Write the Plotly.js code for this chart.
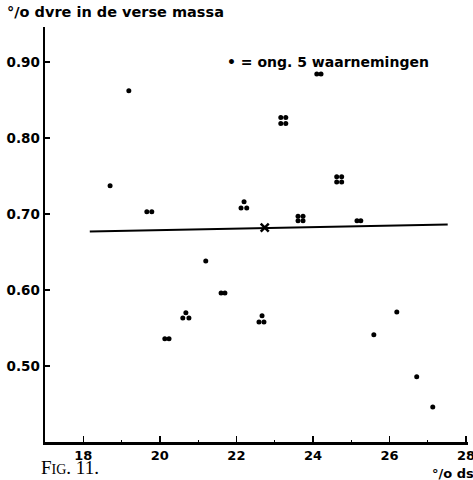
<!DOCTYPE html>
<html>
<head>
<meta charset="utf-8">
<script src="https://cdn.plot.ly/plotly-3.0.1.min.js"></script>
<style>html,body{margin:0;padding:0;background:#fff;}#chart{width:473px;height:480px;}</style>
</head>
<body>
<div id="chart"></div>
<script>
// Each dot ≈ 5 observations (% dry matter vs % acid in fresh mass)
const dotX = [18.70, 19.19, 19.66, 19.79, 21.20, 21.60, 21.70, 20.13, 20.24,
  20.68, 20.60, 20.76, 22.20, 22.12, 22.27,
  23.16, 23.29, 23.16, 23.29,
  24.62, 24.75, 24.62, 24.75,
  23.61, 23.74, 23.61, 23.74,
  25.15, 25.25, 24.10, 24.21,
  22.67, 22.59, 22.72,
  25.59, 26.19, 26.71, 27.13];
const dotY = [0.737, 0.862, 0.703, 0.703, 0.638, 0.596, 0.596, 0.536, 0.536,
  0.570, 0.563, 0.563, 0.716, 0.708, 0.708,
  0.827, 0.827, 0.819, 0.819,
  0.749, 0.749, 0.742, 0.742,
  0.697, 0.697, 0.691, 0.691,
  0.691, 0.691, 0.884, 0.884,
  0.566, 0.558, 0.558,
  0.541, 0.571, 0.486, 0.446];
const meanX = [22.74];
const meanY = [0.682];
const lineX = [18.17, 27.52];
const lineY = [0.677, 0.686];
const xTicks = [18, 20, 22, 24, 26, 28];
const yTicks = [0.50, 0.60, 0.70, 0.80, 0.90];
const yTickText = ['0.50', '0.60', '0.70', '0.80', '0.90'];
const legendText = '• = ong. 5 waarnemingen';
const yTitle = '°/o dvre in de verse massa';
const xTitle = '°/o ds';

const F = 'DejaVu Sans, sans-serif';
const traces = [
  {x: lineX, y: lineY, type: 'scatter', mode: 'lines', line: {color: '#000', width: 2}, hoverinfo: 'skip'},
  {x: dotX, y: dotY, type: 'scatter', mode: 'markers', marker: {color: '#000', size: 5, symbol: 'circle'}},
  {x: meanX, y: meanY, type: 'scatter', mode: 'markers', marker: {color: '#000', size: 8, symbol: 'x-thin', line: {color: '#000', width: 2.5}}}
];
const layout = {
  width: 473, height: 480,
  margin: {l: 45, r: 5, t: 27, b: 38},
  paper_bgcolor: '#fff', plot_bgcolor: '#fff',
  showlegend: false,
  font: {family: F, color: '#000', size: 13},
  xaxis: {
    range: [17, 28.05], showgrid: false, zeroline: false,
    showline: true, linecolor: '#000', linewidth: 2.5,
    tickvals: xTicks, ticktext: xTicks.map(String), ticks: 'inside', ticklen: 6, tickwidth: 1.5, tickcolor: '#000',
    tickfont: {family: F, size: 13, weight: 'bold'}, ticklabeloverflow: 'allow',
    minor: {tickvals: [19, 21, 23, 25, 27], ticks: 'inside', ticklen: 2, tickwidth: 1, tickcolor: '#000'}
  },
  yaxis: {
    range: [0.40, 0.946], showgrid: false, zeroline: false,
    showline: true, linecolor: '#000', linewidth: 2.5,
    tickvals: yTicks, ticktext: yTickText, ticks: 'inside', ticklen: 5, tickwidth: 1.5, tickcolor: '#000',
    tickfont: {family: F, size: 13.5, weight: 'bold'}
  },
  annotations: [
    {xref: 'x', yref: 'y', x: 21.7, y: 0.90, xanchor: 'left', yanchor: 'middle', showarrow: false,
     text: legendText, font: {family: F, size: 14, weight: 'bold'}},
    {xref: 'paper', yref: 'paper', x: -0.095, y: 1.0, yshift: 15, xanchor: 'left', yanchor: 'middle', showarrow: false,
     text: yTitle, font: {family: F, size: 14.5, weight: 'bold'}},
    {xref: 'paper', yref: 'paper', x: 0.91, y: 0, yshift: -31, xanchor: 'left', yanchor: 'middle', showarrow: false,
     text: xTitle, font: {family: F, size: 13, weight: 'bold'}},
    {xref: 'paper', yref: 'paper', x: -0.012, y: 0, yshift: -37, xanchor: 'left', yanchor: 'bottom', showarrow: false,
     borderpad: 0,
     text: 'F<span style="font-size:14px">IG</span>. 11.', font: {family: 'Liberation Serif, serif', size: 19}}
  ]
};
Plotly.newPlot('chart', traces, layout, {staticPlot: true, displayModeBar: false});
</script>
</body>
</html>
